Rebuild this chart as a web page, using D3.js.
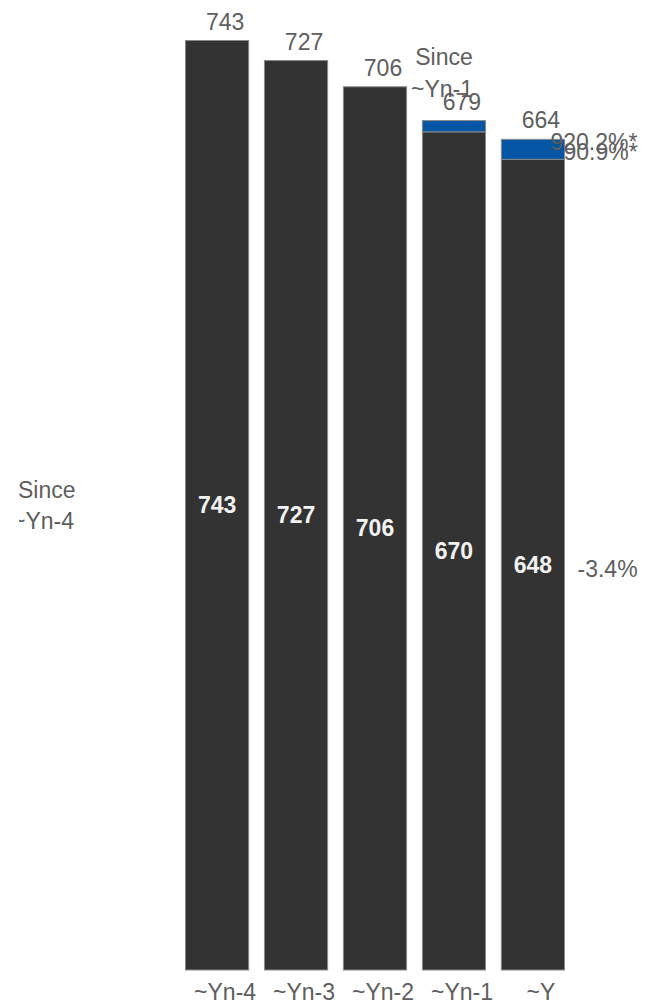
<!DOCTYPE html>
<html>
<head>
<meta charset="utf-8">
<script src="https://cdn.jsdelivr.net/npm/d3@7"></script>
<style>
  html, body { margin: 0; padding: 0; background: #fff; }
  svg { display: block; }
  text { font-family: "Liberation Sans", Arial, sans-serif; }
</style>
</head>
<body>
<svg id="chart" width="648" height="1008"></svg>
<script>
// Yearly counts: base segment and the increment stacked on top
const categories = ["~Yn-4", "~Yn-3", "~Yn-2", "~Yn-1", "~Y"];
const baseValues = [743, 727, 706, 670, 648];
const addedValues = [0, 0, 0, 9, 16];
const totalLabels = [743, 727, 706, 679, 664];

// Change annotations
const changeLabels = ["920.2%*", "90.9%*", "-3.4%"];
const periodLabelsLeft = ["Since", "~Yn-4"];
const periodLabelsMid = ["Since", "~Yn-1"];

const W = 648, H = 1008;
const svg = d3.select("#chart");

const x = d3.scaleBand()
  .domain(categories)
  .range([185.5, 564.5])
  .paddingInner(0.2)
  .paddingOuter(0);

const y = d3.scaleLinear()
  .domain([0, 743])
  .range([970, 40.5]);

const darkFill = "#333333";
const blueFill = "#0455a4";
const textGray = "#5e5e5e";
const edge = "#8a8a8a";

const rows = categories.map((c, i) => ({
  cat: c,
  base: baseValues[i],
  added: addedValues[i],
  total: totalLabels[i]
}));

// Base segments
svg.append("g").selectAll("rect")
  .data(rows)
  .join("rect")
  .attr("x", d => x(d.cat))
  .attr("width", x.bandwidth())
  .attr("y", d => y(d.base))
  .attr("height", d => y(0) - y(d.base))
  .attr("fill", darkFill)
  .attr("stroke", edge)
  .attr("stroke-width", 1);

// Increment segments on top
svg.append("g").selectAll("rect")
  .data(rows.filter(d => d.added > 0))
  .join("rect")
  .attr("x", d => x(d.cat))
  .attr("width", x.bandwidth())
  .attr("y", d => y(d.base + d.added))
  .attr("height", d => y(d.base) - y(d.base + d.added))
  .attr("fill", blueFill)
  .attr("stroke", edge)
  .attr("stroke-width", 1);

// Values inside the base segments
svg.append("g").selectAll("text")
  .data(rows)
  .join("text")
  .attr("x", d => x(d.cat) + x.bandwidth() / 2)
  .attr("y", d => (y(d.base) + y(0)) / 2)
  .attr("dy", "0.35em")
  .attr("text-anchor", "middle")
  .attr("fill", "#f2f2f2")
  .attr("font-size", 23)
  .attr("font-weight", "bold")
  .text(d => d.base);

// Totals above the bars
svg.append("g").selectAll("text")
  .data(rows)
  .join("text")
  .attr("x", d => x(d.cat) + x.bandwidth() / 2 + 8)
  .attr("y", d => y(d.total) - 11)
  .attr("text-anchor", "middle")
  .attr("fill", textGray)
  .attr("font-size", 23)
  .text(d => d.total);

// Category axis
const xAxis = svg.append("g")
  .attr("transform", `translate(8,${y(0)})`)
  .call(d3.axisBottom(x).tickSize(0).tickPadding(14));
xAxis.select(".domain").remove();
xAxis.selectAll("text")
  .attr("fill", textGray)
  .attr("font-size", 23)
  .attr("font-family", "Liberation Sans, Arial, sans-serif");

// Period captions
svg.append("clipPath").attr("id", "leftClip")
  .append("rect").attr("x", 19).attr("y", 0).attr("width", 160).attr("height", H);

const leftCap = svg.append("text")
  .attr("clip-path", "url(#leftClip)")
  .attr("fill", textGray)
  .attr("font-size", 23);
leftCap.append("tspan").attr("x", 18).attr("y", 498).text(periodLabelsLeft[0]);
leftCap.append("tspan").attr("x", 12).attr("y", 529).text(periodLabelsLeft[1]);

const midCap = svg.append("text")
  .attr("fill", textGray)
  .attr("font-size", 23)
  .attr("text-anchor", "middle");
midCap.append("tspan").attr("x", 444).attr("y", 65).text(periodLabelsMid[0]);
midCap.append("tspan").attr("x", 442).attr("y", 97).text(periodLabelsMid[1]);

// Change annotations beside the last bar
const lastX = x(categories[4]) + x.bandwidth();
svg.append("text")
  .attr("x", lastX - 14).attr("y", 150)
  .attr("fill", textGray).attr("font-size", 23)
  .text(changeLabels[0]);
svg.append("text")
  .attr("x", lastX - 1).attr("y", 160)
  .attr("fill", textGray).attr("font-size", 23)
  .text(changeLabels[1]);
svg.append("text")
  .attr("x", lastX + 13).attr("y", 577)
  .attr("fill", textGray).attr("font-size", 23)
  .text(changeLabels[2]);
</script>
</body>
</html>
